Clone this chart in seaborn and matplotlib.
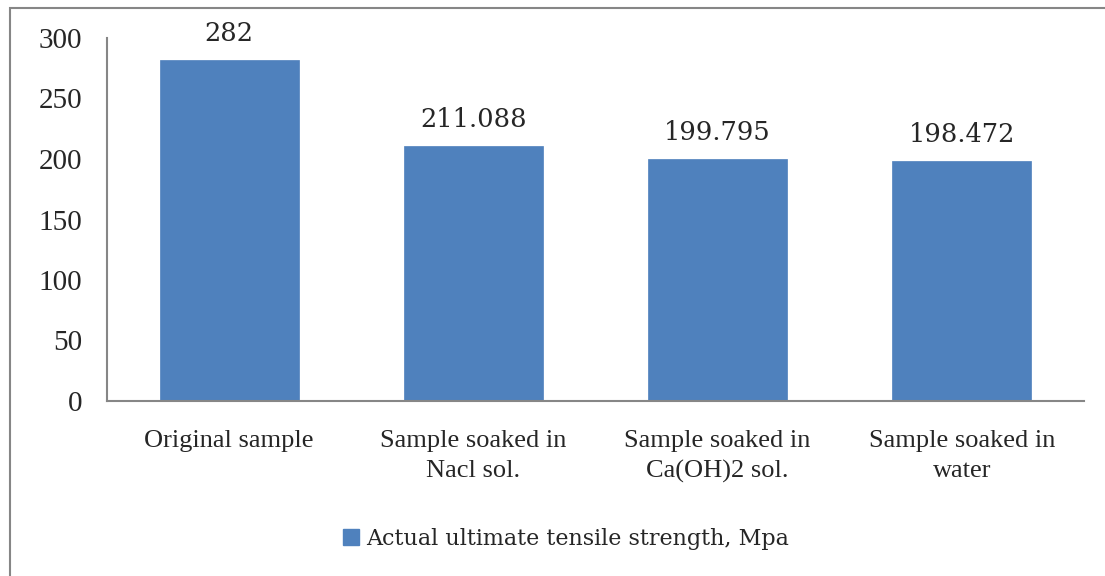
import matplotlib
matplotlib.use("Agg")
import matplotlib.pyplot as plt
import seaborn as sns
import pandas as pd
from matplotlib.patches import Patch, Rectangle

categories = ["Original sample", "Sample soaked in\nNacl sol.", "Sample soaked in\nCa(OH)2 sol.", "Sample soaked in\nwater"]
values = [282, 211.088, 199.795, 198.472]
value_labels = ["282", "211.088", "199.795", "198.472"]
series_name = "Actual ultimate tensile strength, Mpa"
yticks = [0, 50, 100, 150, 200, 250, 300]

df = pd.DataFrame({"category": categories, "value": values})

sns.set_theme(style="white")
plt.rcParams["font.family"] = ["Liberation Serif", "DejaVu Serif"]

fig = plt.figure(figsize=(11.05, 5.76), dpi=100)
ax = fig.add_axes([107/1105, 1 - 401/576, (1084-107)/1105, (401-38)/576])

bar_color = "#4F81BD"
sns.barplot(data=df, x="category", y="value", color=bar_color, width=0.57,
            saturation=1, ax=ax, edgecolor=bar_color, linewidth=0.5)

ax.set_ylim(0, 300)
ax.set_xlim(-0.5, 3.5)
ax.set_yticks(yticks)
ax.set_yticklabels([str(t) for t in yticks], fontsize=21)
ax.tick_params(axis="y", length=0, pad=18)
ax.tick_params(axis="x", length=0, pad=21, labelsize=19)
ax.set_xlabel("")
ax.set_ylabel("")
for s in ["top", "right"]:
    ax.spines[s].set_visible(False)
for s in ["left", "bottom"]:
    ax.spines[s].set_color("#868686")
    ax.spines[s].set_linewidth(1.5)
for lab in ax.get_xticklabels():
    lab.set_linespacing(1.45)

for i, (v, t) in enumerate(zip(values, value_labels)):
    ax.annotate(t, xy=(i, v), xytext=(0, 10), textcoords="offset points",
                ha="center", va="bottom", fontsize=18.5, family=["DejaVu Serif"])

handle = Patch(facecolor=bar_color, edgecolor=bar_color)
leg = fig.legend([handle], [series_name], loc="center", bbox_to_anchor=(566/1105, 1 - 539/576),
                 frameon=False, handlelength=0.7, handleheight=0.7,
                 handletextpad=0.3, prop={"family": "DejaVu Serif", "size": 16})

fig.patches.append(Rectangle((10/1105, -0.1), 1.2, 1 - 8/576 + 0.1, transform=fig.transFigure,
                             fill=False, edgecolor="#868686", linewidth=1.5))

fig.savefig("out.png", dpi=100)
